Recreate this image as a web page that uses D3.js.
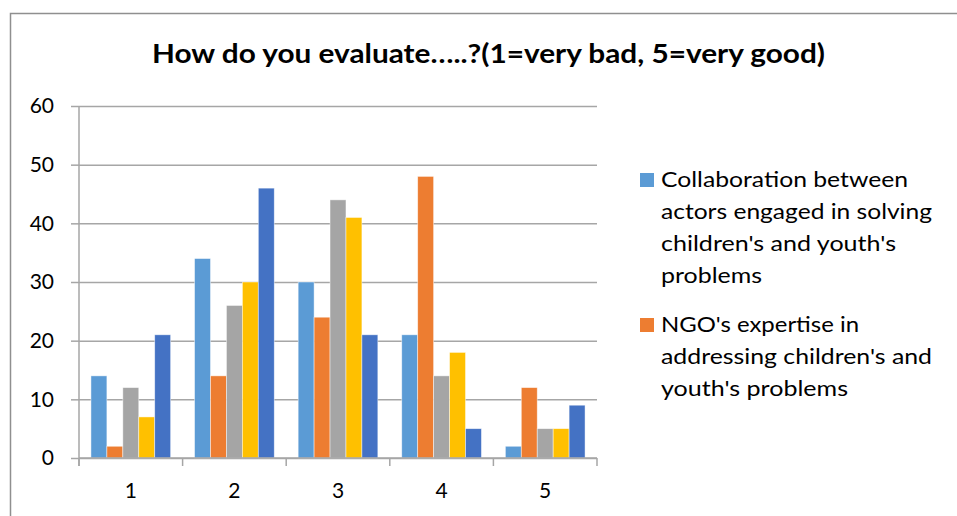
<!DOCTYPE html>
<html>
<head>
<meta charset="utf-8">
<script src="https://cdn.jsdelivr.net/npm/d3@7"></script>
<style>
  html, body { margin: 0; padding: 0; background: #fff; }
  svg { display: block; font-family: Lato, "Open Sans", sans-serif; }
</style>
</head>
<body>
<svg id="chart" width="957" height="516"></svg>
<script>
const W = 957;
const H = 516;

// data
const categories = ["1", "2", "3", "4", "5"];
const collaboration = [14, 34, 30, 21, 2];
const ngoExpertise = [2, 14, 24, 48, 12];
const series3 = [12, 26, 44, 14, 5];
const series4 = [7, 30, 41, 18, 5];
const series5 = [21, 46, 21, 5, 9];
const yTicks = [0, 10, 20, 30, 40, 50, 60];
const titleText = "How do you evaluate…..?(1=very bad, 5=very good)";

// only the first two legend entries are visible in the original
const legendItems = [
  { lines: ["Collaboration between", "actors engaged in solving", "children's and youth's", "problems"],
    widths: [247, 271, 235, 101] },
  { lines: ["NGO's expertise in", "addressing children's and", "youth's problems"],
    widths: [198, 271, 187] }
];

const seriesValues = [collaboration, ngoExpertise, series3, series4, series5];
const colors = ["#5B9BD5", "#ED7D31", "#A5A5A5", "#FFC000", "#4472C4"];

const svg = d3.select("#chart");

// outer chart frame (cut off on right/bottom)
svg.append("path")
  .attr("d", `M10.5,${H + 2} V13.5 H${W + 2}`)
  .attr("fill", "none")
  .attr("stroke", "#8f8f8f")
  .attr("stroke-width", 1.5);

// title
svg.append("text")
  .attr("x", 152)
  .attr("y", 63)
  .attr("font-size", 27)
  .attr("font-weight", "bold")
  .attr("fill", "#000")
  .attr("textLength", 673)
  .attr("lengthAdjust", "spacingAndGlyphs")
  .text(titleText);

const plot = { left: 79, right: 597, top: 106, bottom: 458 };

const x0 = d3.scaleBand().domain(categories).range([plot.left, plot.right]);
const barW = x0.bandwidth() / 6.5; // excel gap width 150%
const x1 = d3.scaleBand()
  .domain(d3.range(seriesValues.length))
  .range([0.75 * barW, x0.bandwidth() - 0.75 * barW]);
const y = d3.scaleLinear().domain([0, 60]).range([plot.bottom, plot.top]);

// gridlines
svg.append("g")
  .attr("transform", `translate(${plot.left},0)`)
  .call(d3.axisLeft(y).tickValues(yTicks).tickSize(-(plot.right - plot.left)).tickFormat(""))
  .call(g => g.select(".domain").remove())
  .call(g => g.selectAll("line").attr("stroke", "#a6a6a6").attr("stroke-width", 1.5));

// y axis
svg.append("g")
  .attr("transform", `translate(${plot.left},0)`)
  .call(d3.axisLeft(y).tickValues(yTicks).tickSize(8).tickPadding(17))
  .call(g => g.select(".domain").remove())
  .call(g => g.selectAll("line").attr("stroke", "#a6a6a6").attr("stroke-width", 1.5))
  .call(g => g.selectAll("text").attr("font-size", 21).attr("fill", "#000")
    .attr("font-family", "Lato, 'Open Sans', sans-serif"));

svg.append("line")
  .attr("x1", plot.left).attr("x2", plot.left)
  .attr("y1", plot.top).attr("y2", plot.bottom + 8)
  .attr("stroke", "#a6a6a6").attr("stroke-width", 1.5);

// bars
const groups = svg.append("g")
  .selectAll("g")
  .data(categories)
  .join("g")
  .attr("transform", d => `translate(${x0(d)},0)`);

groups.selectAll("rect")
  .data((c, i) => seriesValues.map((s, k) => ({ k, v: s[i] })))
  .join("rect")
  .attr("x", d => x1(d.k))
  .attr("width", x1.bandwidth())
  .attr("y", d => y(d.v))
  .attr("height", d => y(0) - y(d.v))
  .attr("fill", d => colors[d.k])
  .attr("stroke", "#fff")
  .attr("stroke-opacity", 0.6)
  .attr("stroke-width", 0.75);

// x axis: labels at centre, ticks at band edges
svg.append("g")
  .attr("transform", `translate(0,${plot.bottom})`)
  .call(d3.axisBottom(x0).tickSize(0).tickPadding(25))
  .call(g => g.select(".domain").remove())
  .call(g => g.selectAll("text").attr("font-size", 21).attr("fill", "#000")
    .attr("font-family", "Lato, 'Open Sans', sans-serif"));

const edges = categories.map(c => x0(c)).concat([plot.right]);
svg.append("line")
  .attr("x1", plot.left).attr("x2", plot.right)
  .attr("y1", plot.bottom).attr("y2", plot.bottom)
  .attr("stroke", "#a6a6a6").attr("stroke-width", 1.5);
svg.append("g")
  .selectAll("line")
  .data(edges)
  .join("line")
  .attr("x1", d => d).attr("x2", d => d)
  .attr("y1", plot.bottom).attr("y2", plot.bottom + 8)
  .attr("stroke", "#a6a6a6").attr("stroke-width", 1.5);

// legend
const legendTop = [173, 318];
const legend = svg.append("g");
legendItems.forEach((item, i) => {
  legend.append("rect")
    .attr("x", 640).attr("y", legendTop[i])
    .attr("width", 14).attr("height", 14)
    .attr("fill", colors[i]);
  item.lines.forEach((line, j) => {
    legend.append("text")
      .attr("x", 661)
      .attr("y", legendTop[i] + 14 + j * 32)
      .attr("font-size", 21)
      .attr("fill", "#000")
      .attr("textLength", item.widths[j])
      .attr("lengthAdjust", "spacingAndGlyphs")
      .text(line);
  });
});
</script>
</body>
</html>
